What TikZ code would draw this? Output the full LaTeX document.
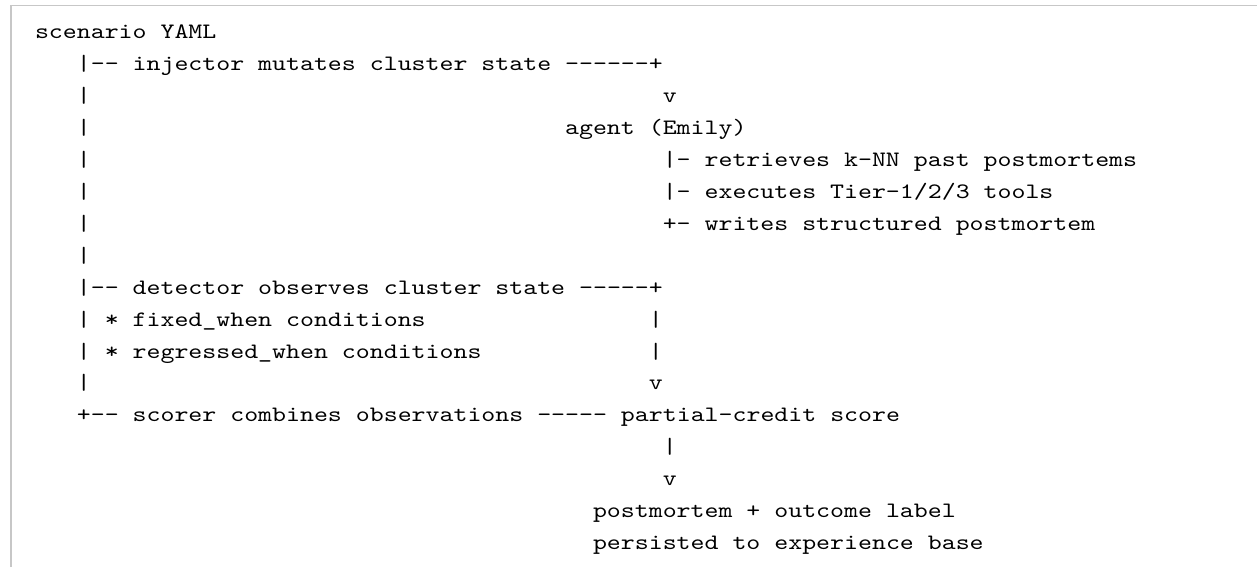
\documentclass[tikz,border=0pt]{standalone}
\usepackage{fontspec}
\setmonofont{Latin Modern Mono}
\newcommand{\hs}[1]{\scalebox{1.208}[1]{#1}}
\tikzset{
  txt/.style={inner sep=0pt, outer sep=0pt, anchor=base west, font=\fontsize{11}{13}\selectfont\ttfamily},
  frameline/.style={draw=black!22, line width=0.8pt}
}
\begin{document}
\begin{tikzpicture}[x=0.5pt, y=-0.5pt]
\useasboundingbox (0,0) rectangle (1257,567);
\fill[white] (0,0) rectangle (1257,567);
\coordinate (fa) at (10.7,567);
\coordinate (fb) at (10.7,5.5);
\coordinate (fc) at (1257,5.5);
\draw[frameline] (fa) -- (fb) -- (fc);
\def\cw{13.95}
\def\lh{31.9}
% row 0
\node[txt] (scen) at ({35+0*\cw},{39+0*\lh}) {\hs{scenario YAML}};
% row 1
\node[txt] (inj) at ({35+3*\cw},{39+1*\lh}) {\hs{|-- injector mutates cluster state ------+}};
% row 2
\node[txt] (b2) at ({35+3*\cw},{39+2*\lh}) {\hs{|}};
\node[txt] (v2) at ({35+45*\cw},{39+2*\lh}) {\hs{v}};
% row 3
\node[txt] (b3) at ({35+3*\cw},{39+3*\lh}) {\hs{|}};
\node[txt] (agent) at ({35+38*\cw},{39+3*\lh}) {\hs{agent (Emily)}};
% row 4
\node[txt] (b4) at ({35+3*\cw},{39+4*\lh}) {\hs{|}};
\node[txt] (ret) at ({35+45*\cw},{39+4*\lh}) {\hs{|- retrieves k-NN past postmortems}};
% row 5
\node[txt] (b5) at ({35+3*\cw},{39+5*\lh}) {\hs{|}};
\node[txt] (exe) at ({35+45*\cw},{39+5*\lh}) {\hs{|- executes Tier-1/2/3 tools}};
% row 6
\node[txt] (b6) at ({35+3*\cw},{39+6*\lh}) {\hs{|}};
\node[txt] (wri) at ({35+45*\cw},{39+6*\lh}) {\hs{+- writes structured postmortem}};
% row 7
\node[txt] (b7) at ({35+3*\cw},{39+7*\lh}) {\hs{|}};
% row 8
\node[txt] (det) at ({35+3*\cw},{39+8*\lh}) {\hs{|-- detector observes cluster state -----+}};
% row 9
\node[txt] (b9) at ({35+3*\cw},{39+9*\lh}) {\hs{|}};
\node[txt] (fix) at ({35+5*\cw},{39+9*\lh}) {\hs{* fixed\_when conditions}};
\node[txt] (r9) at ({35+44*\cw},{39+9*\lh}) {\hs{|}};
% row 10
\node[txt] (b10) at ({35+3*\cw},{39+10*\lh}) {\hs{|}};
\node[txt] (reg) at ({35+5*\cw},{39+10*\lh}) {\hs{* regressed\_when conditions}};
\node[txt] (r10) at ({35+44*\cw},{39+10*\lh}) {\hs{|}};
% row 11
\node[txt] (b11) at ({35+3*\cw},{39+11*\lh}) {\hs{|}};
\node[txt] (v11) at ({35+44*\cw},{39+11*\lh}) {\hs{v}};
% row 12
\node[txt] (sco) at ({35+3*\cw},{39+12*\lh}) {\hs{+-- scorer combines observations ----- partial-credit score}};
% row 13
\node[txt] (b13) at ({35+45*\cw},{39+13*\lh}) {\hs{|}};
% row 14
\node[txt] (v14) at ({35+45*\cw},{39+14*\lh}) {\hs{v}};
% row 15
\node[txt] (pm) at ({35+40*\cw},{39+15*\lh}) {\hs{postmortem + outcome label}};
% row 16
\node[txt] (per) at ({35+40*\cw},{39+16*\lh}) {\hs{persisted to experience base}};
\end{tikzpicture}
\end{document}
